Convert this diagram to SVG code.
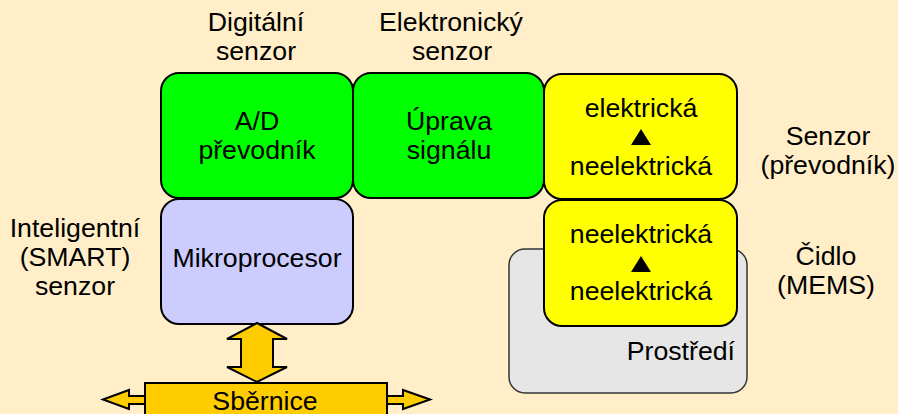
<svg xmlns="http://www.w3.org/2000/svg" width="898" height="414" viewBox="0 0 898 414">
<style>
text{font-family:"Liberation Sans",Arial,sans-serif;font-size:26.7px;fill:#000;text-anchor:middle}
.box{stroke:#000;stroke-width:2}
.g{fill:#00ff00}
.y{fill:#ffff00}
.p{fill:#ccccff}
.env{fill:#e6e6e6;stroke:#333;stroke-width:1.5}
.bus{fill:#ffcc00;stroke:#000;stroke-width:2;stroke-linejoin:miter}
</style>
<rect width="898" height="414" fill="#ffeec7"/>
<g id="labels">
<text x="256" y="31">Digitální</text>
<text x="256" y="60">senzor</text>
<text x="451" y="31">Elektronický</text>
<text x="452" y="60">senzor</text>
<text x="828" y="145">Senzor</text>
<text x="828" y="174">(převodník)</text>
<text x="826" y="265">Čidlo</text>
<text x="826" y="294">(MEMS)</text>
<text x="75" y="237">Inteligentní</text>
<text x="75" y="266">(SMART)</text>
<text x="75" y="295">senzor</text>
</g>
<g id="prostredi">
<rect class="env" x="509" y="249" width="238" height="144" rx="16"/>
<text x="735" y="360" style="text-anchor:end">Prostředí</text>
</g>
<g id="ad">
<rect class="box g" x="161" y="73" width="192" height="125" rx="18"/>
<text x="257" y="130">A/D</text>
<text x="257" y="159">převodník</text>
</g>
<g id="uprava">
<rect class="box g" x="353" y="73" width="191" height="125" rx="18"/>
<text x="449" y="130">Úprava</text>
<text x="449" y="159">signálu</text>
</g>
<g id="senzor">
<rect class="box y" x="544" y="74" width="193" height="125" rx="18"/>
<text x="641" y="117">elektrická</text>
<polygon points="641,129 651,145 631,145" fill="#000"/>
<text x="641" y="175">neelektrická</text>
</g>
<g id="cidlo">
<rect class="box y" x="544" y="200" width="193" height="126" rx="18"/>
<text x="641" y="243">neelektrická</text>
<polygon points="641,256 651,272 631,272" fill="#000"/>
<text x="641" y="300">neelektrická</text>
</g>
<g id="mikroprocesor">
<rect class="box p" x="161" y="199" width="192" height="125" rx="18"/>
<text x="257" y="267">Mikroprocesor</text>
</g>
<g id="connectors">
<polygon class="bus" points="257,323 287,339 273,339 273,367 287,367 257,382 227,367 241,367 241,339 227,339"/>
<polygon class="bus" points="103,399.5 129,390 129,396 145,396 145,404 129,404 129,409"/>
<polygon class="bus" points="430,399.5 403,390 403,396 387,396 387,404 403,404 403,409"/>
</g>
<g id="sbernice">
<rect class="bus" x="145" y="383" width="242" height="40"/>
<text x="265" y="410">Sběrnice</text>
</g>
</svg>
